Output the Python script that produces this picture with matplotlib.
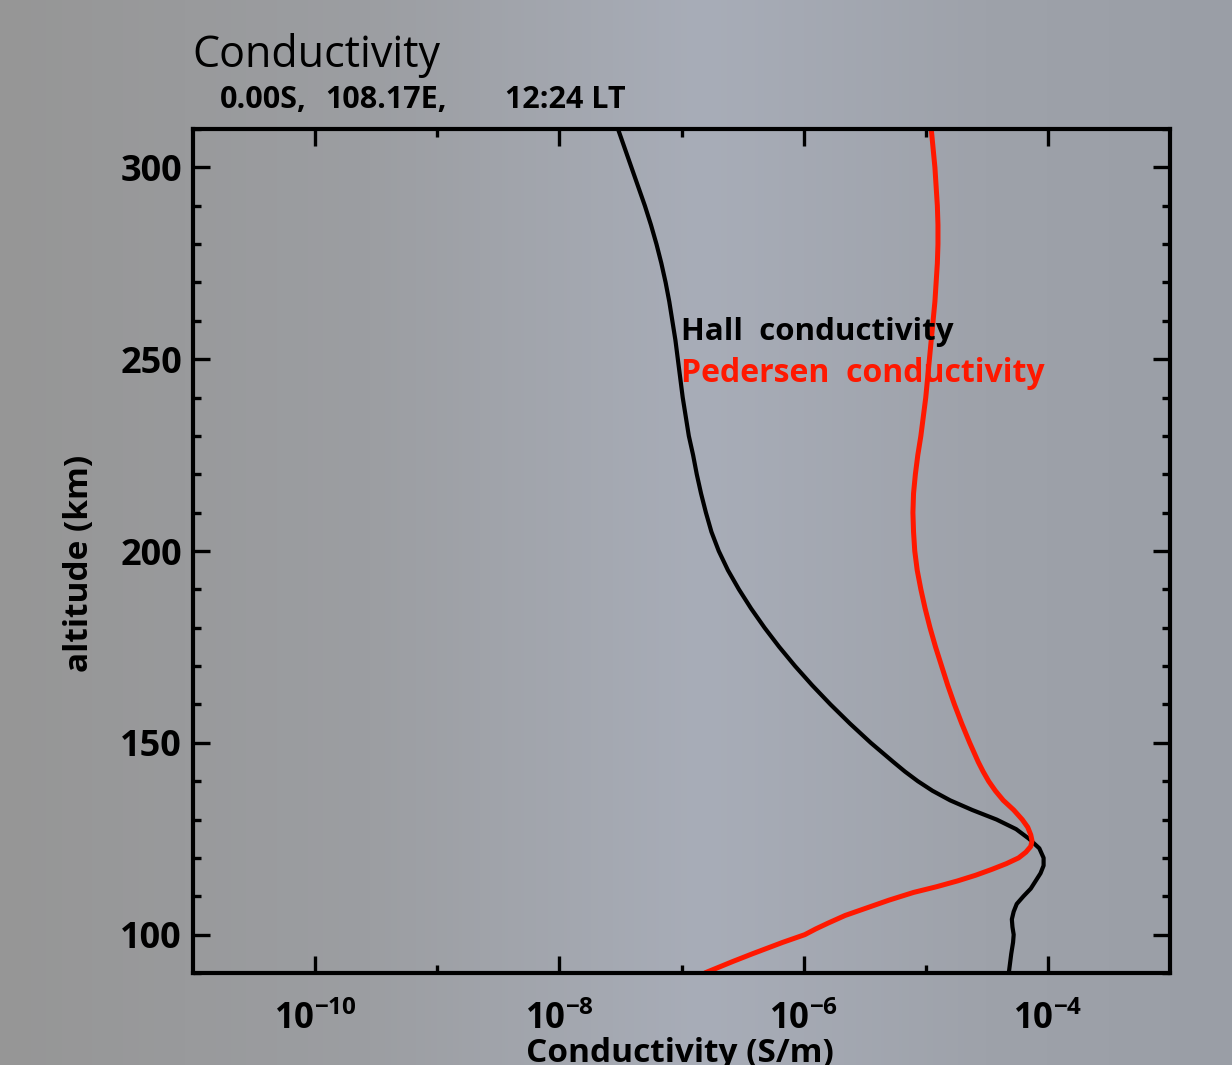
import numpy as np
import matplotlib
matplotlib.use("Agg")
import matplotlib.pyplot as plt
from matplotlib.ticker import FixedLocator, FixedFormatter, NullFormatter

plt.rcParams['font.family'] = ['Open Sans', 'DejaVu Sans']
plt.rcParams['mathtext.fontset'] = 'custom'
plt.rcParams['mathtext.rm'] = 'Open Sans:bold'
plt.rcParams['mathtext.bf'] = 'Open Sans:bold'

# altitude (km) and log10 conductivity (S/m)
hall_alt = [90, 95, 98, 100, 102, 104, 106, 108, 110, 112, 114, 116, 118, 120, 122.5,
            125, 127.5, 130, 132.5, 135, 137.5, 140, 142.5, 145, 150, 155, 160, 165, 170,
            175, 180, 185, 190, 195, 200, 205, 210, 215, 220, 225, 230, 235, 240,
            245, 250, 255, 260, 265, 270, 275, 280, 285, 290, 295, 300, 305, 310]
hall_log = [-4.32, -4.30, -4.285, -4.28, -4.29, -4.295, -4.28, -4.255, -4.20, -4.14,
            -4.10, -4.06, -4.035, -4.035, -4.07, -4.155, -4.26, -4.42, -4.62, -4.80,
            -4.945, -5.065, -5.17, -5.265, -5.45, -5.62, -5.78, -5.93, -6.07, -6.20,
            -6.32, -6.43, -6.53, -6.62, -6.695, -6.755, -6.80, -6.84, -6.875,
            -6.905, -6.94, -6.965, -6.99, -7.01, -7.03, -7.05, -7.075, -7.10,
            -7.13, -7.165, -7.205, -7.25, -7.30, -7.355, -7.41, -7.465, -7.52]

ped_alt = [90, 93, 95, 98, 100, 101.5, 103, 105, 107, 109, 111, 112.5, 114, 115.5, 117,
           118.5, 120, 121.5, 123, 124.5, 126, 128, 130, 132.5, 135, 137.5, 140, 142.5,
           145, 147.5, 150, 155, 160, 165, 170, 175, 180, 185, 190, 195, 200, 205, 210,
           215, 220, 225, 230, 235, 240, 245, 250, 255, 260, 265, 270, 275, 280, 285,
           290, 295, 300, 305, 310]
ped_log = [-6.81, -6.58, -6.42, -6.17, -5.99, -5.90, -5.80, -5.66, -5.48, -5.30, -5.10,
           -4.91, -4.74, -4.59, -4.46, -4.34, -4.24, -4.18, -4.14, -4.13, -4.14,
           -4.165, -4.21, -4.28, -4.365, -4.43, -4.485, -4.53, -4.57, -4.605, -4.64,
           -4.705, -4.765, -4.82, -4.87, -4.92, -4.965, -5.005, -5.04, -5.07, -5.09,
           -5.10, -5.105, -5.10, -5.085, -5.065, -5.04, -5.02, -5.00, -4.985, -4.97,
           -4.955, -4.94, -4.925, -4.915, -4.905, -4.90, -4.90, -4.905, -4.915,
           -4.925, -4.94, -4.955]

x_major = [1e-10, 1e-8, 1e-6, 1e-4]
x_major_labels = [r'$10^{-10}$', r'$10^{-8}$', r'$10^{-6}$', r'$10^{-4}$']
x_minor = [1e-9, 1e-7, 1e-5]
y_major = [100, 150, 200, 250, 300]
y_minor = list(range(90, 311, 10))

W, H = 1232, 1065
fig = plt.figure(figsize=(W / 100, H / 100), dpi=100)

# grey/blue-ish backdrop
bg = fig.add_axes([0, 0, 1, 1])
xs = np.linspace(0, 1, 400)
stops = [0.0, 0.3, 0.57, 0.8, 1.0]
r = np.interp(xs, stops, [150, 156, 168, 158, 154])
g = np.interp(xs, stops, [150, 158, 173, 162, 158])
b = np.interp(xs, stops, [150, 162, 184, 170, 166])
grad = np.dstack([r, g, b])[0] / 255.0
bg.imshow(np.tile(grad[None, :, :], (50, 1, 1)), aspect='auto', extent=[0, 1, 0, 1])
bg.set_axis_off()

ax = fig.add_axes([193 / W, 1 - 973 / H, 977 / W, 844 / H])
ax.set_facecolor('none')
ax.plot(10 ** np.array(hall_log), hall_alt, color='black', lw=3.0,
        solid_joinstyle='round', solid_capstyle='butt')
ax.plot(10 ** np.array(ped_log), ped_alt, color='#ff1800', lw=3.6,
        solid_joinstyle='round', solid_capstyle='butt')

ax.set_xscale('log')
ax.set_xlim(1e-11, 1e-3)
ax.set_ylim(90, 310)
ax.xaxis.set_major_locator(FixedLocator(x_major))
ax.xaxis.set_major_formatter(FixedFormatter(x_major_labels))
ax.xaxis.set_minor_locator(FixedLocator(x_minor))
ax.xaxis.set_minor_formatter(NullFormatter())
ax.yaxis.set_major_locator(FixedLocator(y_major))
ax.yaxis.set_minor_locator(FixedLocator(y_minor))

for s in ax.spines.values():
    s.set_linewidth(3.0)
ax.tick_params(which='both', direction='in', top=True, right=True, width=2.4)
ax.tick_params(which='major', length=12)
ax.tick_params(which='minor', length=6)
ax.tick_params(axis='x', which='major', pad=20, labelsize=25)
ax.tick_params(axis='y', which='major', pad=8, labelsize=26)
for lab in ax.get_yticklabels():
    lab.set_fontweight('bold')

fig.text(681 / W, 1 - 332 / H, 'Hall  conductivity', color='black', fontsize=22.5,
         fontweight='bold', va='center', ha='left')
fig.text(681 / W, 1 - 374 / H, 'Pedersen  conductivity', color='#ff1800', fontsize=23,
         fontweight='bold', va='center', ha='left')

fig.text(192 / W, 1 - 55 / H, 'Conductivity', fontsize=31, va='center', ha='left')
fig.text(220 / W, 1 - 100 / H, '0.00S,', fontsize=22, fontweight='bold',
         va='center', ha='left')
fig.text(325 / W, 1 - 100 / H, '108.17E,', fontsize=22, fontweight='bold',
         va='center', ha='left')
fig.text(505 / W, 1 - 100 / H, '12:24 LT', fontsize=22, fontweight='bold',
         va='center', ha='left')
fig.text(80 / W, 1 - 563 / H, 'altitude (km)', rotation=90, fontsize=24,
         fontweight='bold', va='center', ha='center')
fig.text(680 / W, 1 - 1037 / H, 'Conductivity (S/m)', fontsize=24,
         fontweight='bold', va='top', ha='center')

fig.savefig('out.png', dpi=100)
